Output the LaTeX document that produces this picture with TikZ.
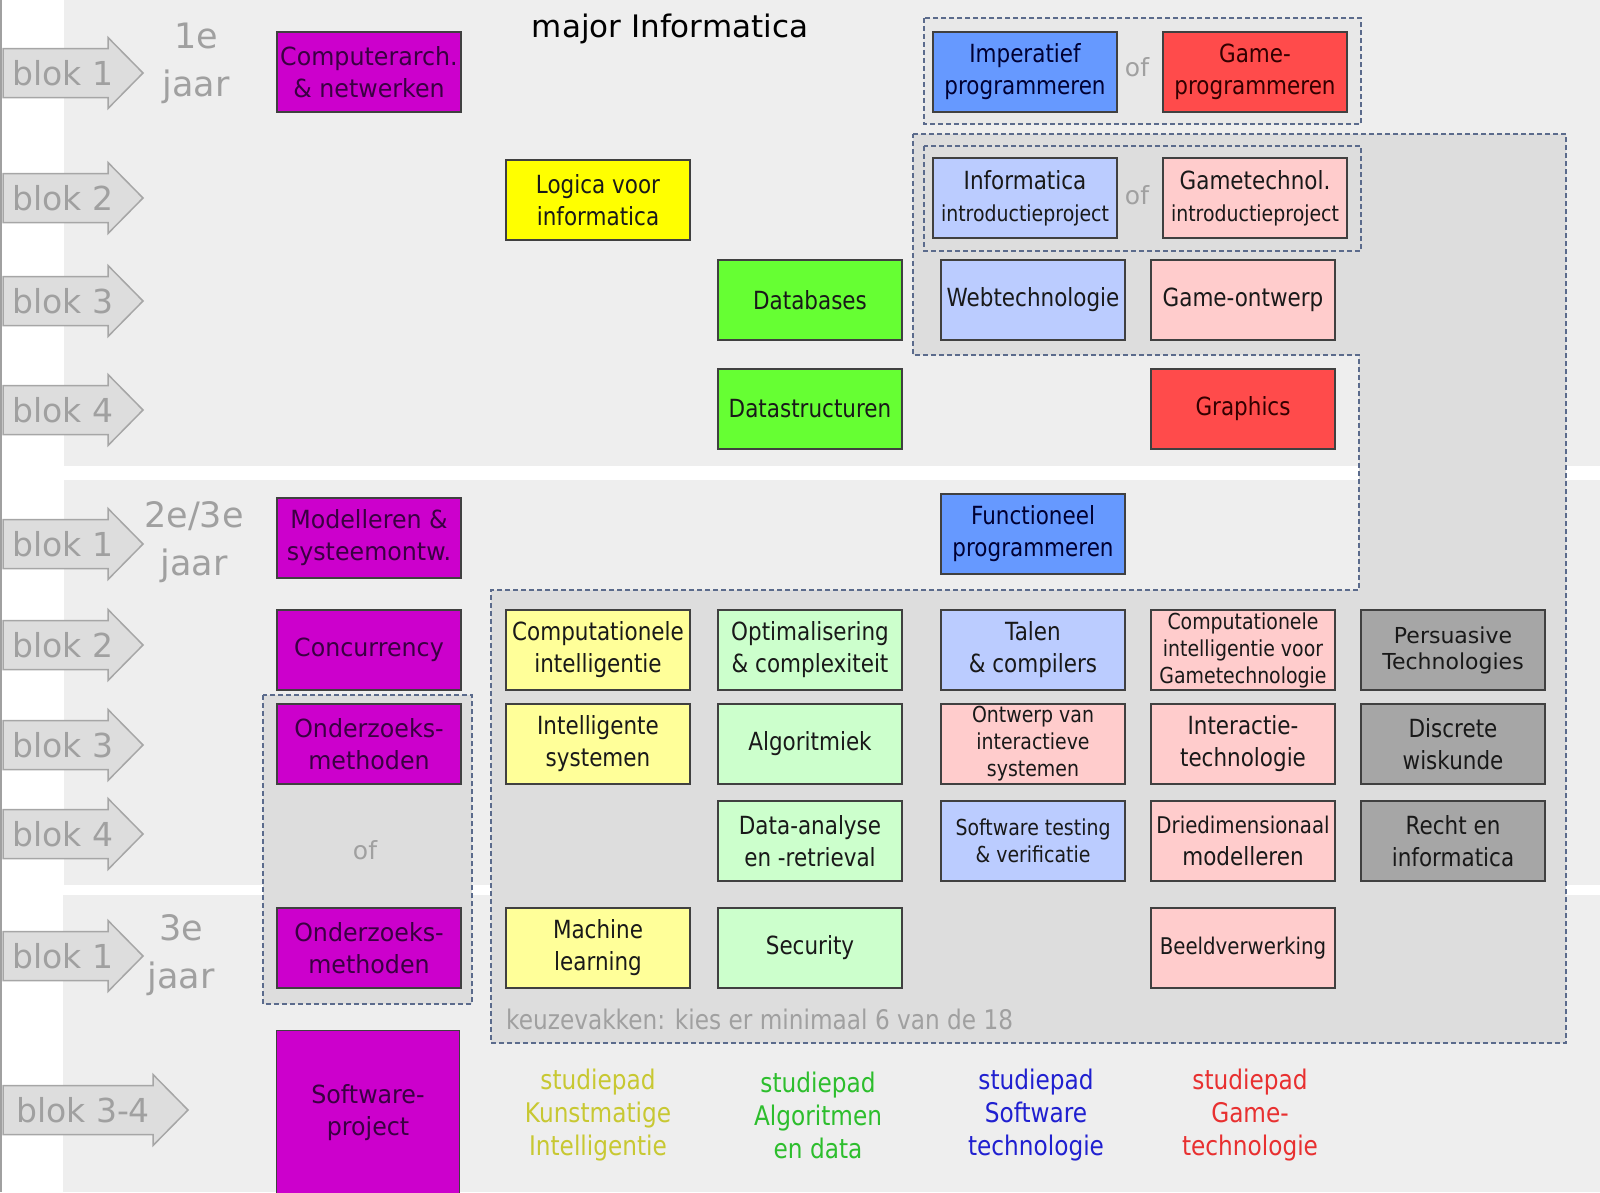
\documentclass[tikz,border=0pt]{standalone}
\usepackage{fontspec}
\setmainfont{DejaVu Sans}
\newfontfamily\vakfont[FakeStretch=0.86]{DejaVu Sans}
\newfontfamily\kernfont[FakeStretch=0.95]{DejaVu Sans}
\usepackage{xcolor}
\usepackage{tikz}

\definecolor{paars}{HTML}{CC00CC}
\definecolor{paarstekst}{HTML}{3A0042}
\definecolor{geel}{HTML}{FFFF00}
\definecolor{lichtgeel}{HTML}{FFFF99}
\definecolor{groen}{HTML}{66FF33}
\definecolor{lichtgroen}{HTML}{CCFFCC}
\definecolor{blauw}{HTML}{6699FF}
\definecolor{lichtblauw}{HTML}{BBCCFF}
\definecolor{rood}{HTML}{FF4B4B}
\definecolor{roze}{HTML}{FFCCCC}
\definecolor{grijs}{HTML}{A6A6A6}
\definecolor{band}{HTML}{EEEEEE}
\definecolor{vlak}{HTML}{DDDDDD}
\definecolor{streep}{HTML}{5B6B8C}
\definecolor{tekstgrijs}{HTML}{A0A0A0}
\definecolor{padgeel}{HTML}{C8C832}
\definecolor{padgroen}{HTML}{2DBE2D}
\definecolor{padblauw}{HTML}{2020D0}
\definecolor{padrood}{HTML}{E83030}

\begin{document}
\begin{tikzpicture}[x=1pt, y=-1pt,
    vak/.style={draw=black!75, line width=1.5pt, minimum width=184pt, minimum height=80pt,
      inner sep=0pt, align=center, text=black!90, font=\vakfont\fontsize{25}{32}\selectfont},
    kern/.style={vak, fill=paars, text=paarstekst, font=\kernfont\fontsize{25}{32}\selectfont},
    klein/.style={font=\vakfont\fontsize{22}{27}\selectfont},
    groep/.style={draw=streep, line width=1.5pt, dash pattern=on 5pt off 3pt, fill=vlak},
    pijl/.style={draw=black!35, line width=1.5pt, fill=vlak},
    bloktekst/.style={anchor=west, inner sep=0pt, text=tekstgrijs, font=\fontsize{33}{40}\selectfont},
    jaartekst/.style={align=center, inner sep=0pt, text=tekstgrijs, font=\fontsize{35}{48}\selectfont},
    oftekst/.style={text=tekstgrijs, font=\fontsize{25}{30}\selectfont},
    padtekst/.style={align=center, font=\vakfont\fontsize{27}{33}\selectfont}]
  \useasboundingbox (0,0) rectangle (1600,1192);

  % Achtergrond
  \fill[band] (64,0) rectangle (1600,466);
  \fill[band] (64,480) rectangle (1600,885);
  \fill[band] (63,895) rectangle (1600,1192);
  \draw[tekstgrijs, line width=2pt] (1,0) -- (1,1192);

  % Keuzeruimte en of-groepen
  \draw[groep] (913,134) -- (1566,134) -- (1566,1043) -- (491,1043) -- (491,590)
    -- (1359,590) -- (1359,355) -- (913,355) -- cycle;
  \draw[groep, fill=black!9] (924,18) rectangle (1361,124);
  \draw[groep] (924,146) rectangle (1361,251);
  \draw[groep] (263,695) rectangle (472,1004);

  % Blokken
  \foreach \y/\n [count=\i] in {73/1, 198/2, 301/3, 410/4, 544/1, 645/2, 745/3, 834/4, 956/1} {
    \draw[pijl] (3,\y-24.5) -- (108,\y-24.5) -- (108,\y-35.5) -- (143,\y)
      -- (108,\y+35.5) -- (108,\y+24.5) -- (3,\y+24.5) -- cycle;
    \node (blok\i) [bloktekst] at (12,\y) {blok \n};
  }
  \draw[pijl] (3,1085.5) -- (153,1085.5) -- (153,1074.5) -- (188,1110)
    -- (153,1145.5) -- (153,1134.5) -- (3,1134.5) -- cycle;
  \node (blokpro) [bloktekst] at (16,1110) {blok 3-4};

  % Jaren en titel
  \node (jaar1) [jaartekst] at (196,63) {1e\\jaar};
  \node (jaar2) [jaartekst] at (194,542) {2e/3e\\jaar};
  \node (jaar3) [jaartekst] at (181,955) {3e\\jaar};
  \node (titel) [font=\fontsize{31}{36}\selectfont] at (670,29) {major Informatica};

  % Kernvakken
  \node (ca)   [kern] at (369,72)  {Computerarch.\\\& netwerken};
  \node (mod)  [kern] at (369,538) {Modelleren \&\\systeemontw.};
  \node (conc) [kern] at (369,650) {Concurrency};
  \node (oz1)  [kern] at (369,744) {Onderzoeks-\\methoden};
  \node (oz2)  [kern] at (369,948) {Onderzoeks-\\methoden};
  \node (swp)  [kern, minimum width=183pt, minimum height=165pt] at (368,1113) {Software-\\project};
  \node (of3)  [oftekst] at (365,850) {of};

  % Eerste jaar
  \node (ip)  [vak, fill=blauw, text=black!80!blue] at (1025,72) {Imperatief\\programmeren};
  \node (gp)  [vak, fill=rood, text=black!80!red] at (1255,72) {Game-\\programmeren};
  \node (of1) [oftekst] at (1137,67) {of};
  \node (lg)  [vak, fill=geel] at (598,200) {Logica voor\\informatica};
  \node (ii)  [vak, fill=lichtblauw] at (1025,198)
    {Informatica\\{\fontsize{22}{27}\selectfont introductieproject}};
  \node (gi)  [vak, fill=roze] at (1255,198)
    {Gametechnol.\\{\fontsize{22}{27}\selectfont introductieproject}};
  \node (of2) [oftekst] at (1137,195) {of};
  \node (db)  [vak, fill=groen] at (810,300) {Databases};
  \node (web) [vak, fill=lichtblauw] at (1033,300) {Webtechnologie};
  \node (go)  [vak, fill=roze] at (1243,300) {Game-ontwerp};
  \node (ds)  [vak, fill=groen] at (810,409) {Datastructuren};
  \node (gr)  [vak, fill=rood, text=black!80!red] at (1243,409) {Graphics};
  \node (fp)  [vak, fill=blauw, text=black!80!blue] at (1033,534) {Functioneel\\programmeren};

  % Keuzevakken
  \node (ci)  [vak, fill=lichtgeel] at (598,650) {Computationele\\intelligentie};
  \node (is)  [vak, fill=lichtgeel] at (598,744) {Intelligente\\systemen};
  \node (ml)  [vak, fill=lichtgeel] at (598,948) {Machine\\learning};
  \node (opt) [vak, fill=lichtgroen] at (810,650) {Optimalisering\\\& complexiteit};
  \node (alg) [vak, fill=lichtgroen] at (810,744) {Algoritmiek};
  \node (da)  [vak, fill=lichtgroen] at (810,841) {Data-analyse\\en -retrieval};
  \node (sec) [vak, fill=lichtgroen] at (810,948) {Security};
  \node (tc)  [vak, fill=lichtblauw] at (1033,650) {Talen\\\& compilers};
  \node (oiv) [vak, klein, fill=roze] at (1033,744) {Ontwerp van\\interactieve\\systemen};
  \node (stv) [vak, klein, fill=lichtblauw] at (1033,841) {Software testing\\\& verificatie};
  \node (cig) [vak, klein, fill=roze] at (1243,650) {Computationele\\intelligentie voor\\Gametechnologie};
  \node (it)  [vak, fill=roze] at (1243,744) {Interactie-\\technologie};
  \node (dm)  [vak, fill=roze] at (1243,841) {{\fontsize{23}{32}\selectfont Driedimensionaal}\\modelleren};
  \node (bv)  [vak, fill=roze, font=\vakfont\fontsize{23}{28}\selectfont] at (1243,948) {Beeldverwerking};
  \node (pt)  [vak, fill=grijs, font=\fontsize{22}{26}\selectfont] at (1453,650) {Persuasive\\Technologies};
  \node (dw)  [vak, fill=grijs] at (1453,744) {Discrete\\wiskunde};
  \node (ri)  [vak, fill=grijs] at (1453,841) {Recht en\\informatica};
  \node (keuze) [anchor=west, inner sep=0pt, text=tekstgrijs, font=\vakfont\fontsize{27}{32}\selectfont]
    at (506,1019) {keuzevakken: kies er minimaal 6 van de 18};

  % Studiepaden
  \node (pad1) [padtekst, text=padgeel]  at (598,1115)  {studiepad\\Kunstmatige\\Intelligentie};
  \node (pad2) [padtekst, text=padgroen] at (818,1115)  {studiepad\\Algoritmen\\en data};
  \node (pad3) [padtekst, text=padblauw] at (1036,1115) {studiepad\\Software\\technologie};
  \node (pad4) [padtekst, text=padrood]  at (1250,1115) {studiepad\\Game-\\technologie};
\end{tikzpicture}
\end{document}
